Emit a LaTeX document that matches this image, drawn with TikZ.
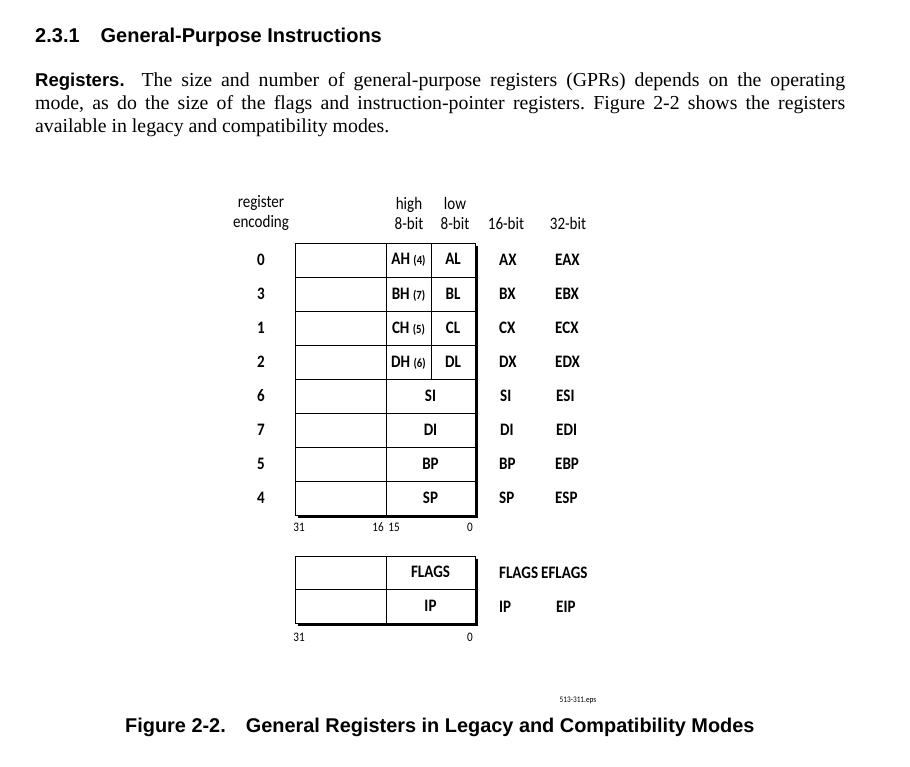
\documentclass[tikz,border=0pt]{standalone}
\usepackage{fontspec}
\setmainfont{Liberation Serif}
\newfontfamily\headfont{Liberation Sans}
\newfontfamily\figfont[FakeStretch=0.86]{Carlito}
\usetikzlibrary{positioning,shadows}

\begin{document}
\begin{tikzpicture}[
    x=1pt, y=-1pt,
    cell/.style={rectangle, draw, line width=0.8pt, inner sep=0pt, minimum height=34pt, text height=10pt, text depth=0pt, font=\figfont\fontsize{17.5}{20}\selectfont\bfseries},
    blank/.style={cell, minimum width=91pt},
    wide/.style={cell, minimum width=89pt},
    half/.style={cell, minimum width=45pt},
    lbl/.style={inner sep=0pt, font=\figfont\fontsize{17.5}{20}\selectfont\bfseries},
    hdr/.style={inner sep=0pt, align=center, font=\figfont\fontsize{17.5}{20}\selectfont},
    bitno/.style={inner sep=0pt, font=\figfont\fontsize{13}{15}\selectfont},
    frame/.style={rectangle, draw, line width=0.8pt, fill=white, inner sep=0pt, drop shadow={shadow xshift=3pt, shadow yshift=-3pt, fill=black, opacity=1}}
]
    \useasboundingbox (0,0) rectangle (910,767);

    % Section heading and text
    \node[anchor=west, inner sep=0pt, font=\headfont\bfseries\fontsize{20}{22}\selectfont] (title) at (35,37) {2.3.1\hspace{21pt}General-Purpose Instructions};
    \node[anchor=north west, inner sep=0pt, text width=810pt, align=justify, font=\frenchspacing\fontsize{19.8}{23}\selectfont] (para) at (35,72)
        {{\headfont\bfseries\fontsize{18.5}{23}\selectfont Registers.}\hspace{8pt} The size and number of general-purpose registers (GPRs) depends on the operating\linebreak
         mode, as do the size of the flags and instruction-pointer registers. Figure 2-2 shows the registers\linebreak
         available in legacy and compatibility modes.};

    % Column headings
    \node[hdr] (enc) at (261,213) {register\\encoding};
    \node[hdr] (high) at (409,213) {high\\8-bit};
    \node[hdr] (low) at (455,213) {low\\8-bit};
    \node[hdr] (w16) at (506,223) {16-bit};
    \node[hdr] (w32) at (568,223) {32-bit};

    % General-purpose registers
    \node[frame, minimum width=180pt, minimum height=272pt] (gpr) at (385,379) {};
    \node[blank] (ra) at (340.5,260) {};
    \node[half] (ah) at (408.5,260) {AH {\fontsize{12.5}{14}\selectfont(4)}};
    \node[half, minimum width=44pt] (al) at (453,260) {AL};
    \node[blank] (rb) at (340.5,294) {};
    \node[half] (bh) at (408.5,294) {BH {\fontsize{12.5}{14}\selectfont(7)}};
    \node[half, minimum width=44pt] (bl) at (453,294) {BL};
    \node[blank] (rc) at (340.5,328) {};
    \node[half] (ch) at (408.5,328) {CH {\fontsize{12.5}{14}\selectfont(5)}};
    \node[half, minimum width=44pt] (cl) at (453,328) {CL};
    \node[blank] (rd) at (340.5,362) {};
    \node[half] (dh) at (408.5,362) {DH {\fontsize{12.5}{14}\selectfont(6)}};
    \node[half, minimum width=44pt] (dl) at (453,362) {DL};
    \node[blank] (rsi) at (340.5,396) {};
    \node[wide] (si) at (430.5,396) {SI};
    \node[blank] (rdi) at (340.5,430) {};
    \node[wide] (di) at (430.5,430) {DI};
    \node[blank] (rbp) at (340.5,464) {};
    \node[wide] (bp) at (430.5,464) {BP};
    \node[blank] (rsp) at (340.5,498) {};
    \node[wide] (sp) at (430.5,498) {SP};

    % Encodings
    \node[lbl] (e0) at (261,260) {0};
    \node[lbl] (e3) at (261,294) {3};
    \node[lbl] (e1) at (261,328) {1};
    \node[lbl] (e2) at (261,362) {2};
    \node[lbl] (e6) at (261,396) {6};
    \node[lbl] (e7) at (261,430) {7};
    \node[lbl] (e5) at (261,464) {5};
    \node[lbl] (e4) at (261,498) {4};

    % 16-bit and 32-bit names
    \node[lbl, anchor=west] (ax) at (499,260) {AX};
    \node[lbl, anchor=west] (eax) at (555,260) {EAX};
    \node[lbl, anchor=west] (bx) at (499,294) {BX};
    \node[lbl, anchor=west] (ebx) at (555,294) {EBX};
    \node[lbl, anchor=west] (cx) at (499,328) {CX};
    \node[lbl, anchor=west] (ecx) at (555,328) {ECX};
    \node[lbl, anchor=west] (dx) at (499,362) {DX};
    \node[lbl, anchor=west] (edx) at (555,362) {EDX};
    \node[lbl, anchor=west] (si16) at (500,396) {SI};
    \node[lbl, anchor=west] (esi) at (556,396) {ESI};
    \node[lbl, anchor=west] (di16) at (500,430) {DI};
    \node[lbl, anchor=west] (edi) at (556,430) {EDI};
    \node[lbl, anchor=west] (bp16) at (499,464) {BP};
    \node[lbl, anchor=west] (ebp) at (555,464) {EBP};
    \node[lbl, anchor=west] (sp16) at (499,498) {SP};
    \node[lbl, anchor=west] (esp) at (555,498) {ESP};

    % Bit numbers
    \node[bitno] (b31) at (299,527) {31};
    \node[bitno] (b16) at (378,527) {16};
    \node[bitno] (b15) at (394,527) {15};
    \node[bitno] (b0) at (470,527) {0};

    % Flags and instruction pointer
    \node[frame, minimum width=180pt, minimum height=67pt] (fip) at (385,589.5) {};
    \node[blank, minimum height=33.5pt] (rfl) at (340.5,572.75) {};
    \node[wide, minimum height=33.5pt] (flags) at (430.5,572.75) {FLAGS};
    \node[blank, minimum height=33.5pt] (rip) at (340.5,606.25) {};
    \node[wide, minimum height=33.5pt] (ip) at (430.5,606.25) {IP};
    \node[lbl, anchor=west] (flags16) at (499,573) {FLAGS};
    \node[lbl, anchor=west] (eflags) at (541,573) {EFLAGS};
    \node[lbl, anchor=west] (ip16) at (499,607) {IP};
    \node[lbl, anchor=west] (eip) at (556,607) {EIP};
    \node[bitno] (c31) at (299,637) {31};
    \node[bitno] (c0) at (470,637) {0};

    % File name and caption
    \node[inner sep=0pt, font=\figfont\fontsize{8.5}{10}\selectfont] (eps) at (578,700) {513-311.eps};
    \node[anchor=west, inner sep=0pt, font=\headfont\bfseries\fontsize{19.9}{23}\selectfont] (caption) at (125,727) {Figure 2-2.\hspace{20pt}General Registers in Legacy and Compatibility Modes};
\end{tikzpicture}
\end{document}
